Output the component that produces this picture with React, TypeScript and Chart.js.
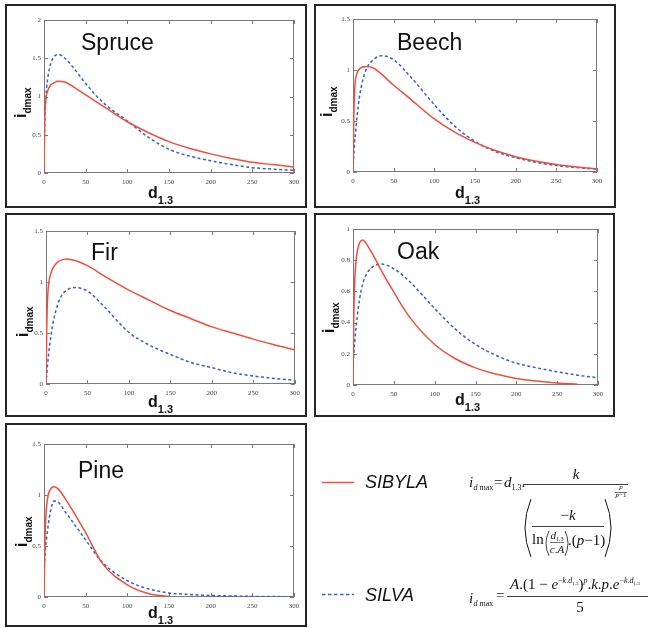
import React, { useEffect, useRef } from 'react';
import { Chart, registerables } from 'chart.js';

Chart.register(...registerables);

// ------------------------------------------------------------------ data
const D13 = [0, 1, 2, 3, 5, 8, 12, 17, 25, 35, 50, 70, 100, 125, 150, 175, 200, 225, 250, 275, 300];
const X_TICKS = [0, 50, 100, 150, 200, 250, 300];
const SERIES_NAMES = ['SIBYLA', 'SILVA'];

const SPRUCE_SIBYLA = [0, 0.75, 0.95, 1.02, 1.09, 1.15, 1.18, 1.2, 1.19, 1.13, 1.02, 0.88, 0.67, 0.53, 0.41, 0.32, 0.25, 0.19, 0.14, 0.11, 0.08];
const SPRUCE_SILVA = [0.25, 0.7, 0.95, 1.1, 1.28, 1.43, 1.52, 1.55, 1.5, 1.38, 1.17, 0.93, 0.68, 0.47, 0.31, 0.22, 0.16, 0.11, 0.07, 0.05, 0.035];
const SPRUCE_Y_TICKS = [0, 0.5, 1, 1.5, 2];

const BEECH_SIBYLA = [0, 0.55, 0.8, 0.9, 0.97, 1.01, 1.03, 1.035, 1.02, 0.96, 0.85, 0.72, 0.52, 0.39, 0.29, 0.21, 0.15, 0.105, 0.073, 0.05, 0.03];
const BEECH_SILVA = [0.02, 0.17, 0.3, 0.38, 0.55, 0.74, 0.9, 1.02, 1.1, 1.14, 1.1, 0.94, 0.66, 0.45, 0.3, 0.2, 0.14, 0.095, 0.063, 0.043, 0.028];
const BEECH_Y_TICKS = [0, 0.5, 1, 1.5];

const FIR_SIBYLA = [0, 0.6, 0.85, 0.97, 1.06, 1.13, 1.18, 1.21, 1.225, 1.21, 1.16, 1.06, 0.92, 0.82, 0.72, 0.64, 0.56, 0.5, 0.44, 0.385, 0.335];
const FIR_SILVA = [0, 0.1, 0.2, 0.28, 0.42, 0.58, 0.72, 0.84, 0.92, 0.945, 0.91, 0.76, 0.505, 0.38, 0.29, 0.21, 0.16, 0.11, 0.078, 0.055, 0.037];
const FIR_Y_TICKS = [0, 0.5, 1, 1.5];

const OAK_SIBYLA = [0, 0.45, 0.65, 0.75, 0.85, 0.91, 0.93, 0.9, 0.83, 0.73, 0.595, 0.43, 0.26, 0.17, 0.11, 0.07, 0.042, 0.025, 0.013, 0.005, null];
const OAK_SILVA = [0.1, 0.2, 0.27, 0.33, 0.43, 0.55, 0.65, 0.715, 0.76, 0.775, 0.745, 0.66, 0.49, 0.36, 0.26, 0.19, 0.14, 0.11, 0.085, 0.063, 0.046];
const OAK_Y_TICKS = [0, 0.2, 0.4, 0.6, 0.8, 1];

const PINE_SIBYLA = [0, 0.5, 0.75, 0.88, 1.0, 1.06, 1.08, 1.06, 0.97, 0.84, 0.63, 0.33, 0.12, 0.035, 0.004, null, null, null, null, null, null];
const PINE_SILVA = [0.24, 0.4, 0.5, 0.57, 0.7, 0.85, 0.94, 0.93, 0.84, 0.73, 0.56, 0.34, 0.16, 0.08, 0.04, 0.025, 0.015, 0.01, 0.006, 0.004, 0.003];
const PINE_Y_TICKS = [0, 0.5, 1, 1.5];

// ------------------------------------------------------------------ style / layout
const RED = 'rgb(240,78,58)';
const BLUE = 'rgb(52,96,200)';
const SANS = "'Liberation Sans', Arial, sans-serif";
const SERIF = "'Liberation Serif', 'Times New Roman', serif";
const BORDER = 2;

type Rect = { left: number; top: number; right: number; bottom: number };
type PanelCfg = {
  name: string;
  red: (number | null)[];
  blue: (number | null)[];
  yTicks: number[];
  box: { left: number; top: number; w: number; h: number };
  plot: Rect;
  title: { x: number; y: number };
  xlab: { x: number; y: number };
  ylab: { x: number; y: number };
};

const PANELS: PanelCfg[] = [
  {
    name: 'Spruce', red: SPRUCE_SIBYLA, blue: SPRUCE_SILVA, yTicks: SPRUCE_Y_TICKS,
    box: { left: 5, top: 4, w: 302, h: 204 },
    plot: { left: 44, top: 20, right: 294, bottom: 173 },
    title: { x: 81, y: 50 }, xlab: { x: 148, y: 198 }, ylab: { x: 26, y: 118 },
  },
  {
    name: 'Beech', red: BEECH_SIBYLA, blue: BEECH_SILVA, yTicks: BEECH_Y_TICKS,
    box: { left: 314, top: 4, w: 302, h: 204 },
    plot: { left: 353, top: 19, right: 597, bottom: 172 },
    title: { x: 397, y: 50 }, xlab: { x: 455, y: 198 }, ylab: { x: 332, y: 117 },
  },
  {
    name: 'Fir', red: FIR_SIBYLA, blue: FIR_SILVA, yTicks: FIR_Y_TICKS,
    box: { left: 5, top: 213, w: 302, h: 204 },
    plot: { left: 46, top: 231, right: 295, bottom: 384 },
    title: { x: 91, y: 260 }, xlab: { x: 148, y: 407 }, ylab: { x: 28, y: 337 },
  },
  {
    name: 'Oak', red: OAK_SIBYLA, blue: OAK_SILVA, yTicks: OAK_Y_TICKS,
    box: { left: 314, top: 213, w: 301, h: 204 },
    plot: { left: 353, top: 229, right: 598, bottom: 385 },
    title: { x: 397, y: 259 }, xlab: { x: 455, y: 405 }, ylab: { x: 334, y: 333 },
  },
  {
    name: 'Pine', red: PINE_SIBYLA, blue: PINE_SILVA, yTicks: PINE_Y_TICKS,
    box: { left: 5, top: 423, w: 302, h: 204 },
    plot: { left: 44, top: 444, right: 294, bottom: 597 },
    title: { x: 78, y: 478 }, xlab: { x: 148, y: 618 }, ylab: { x: 27, y: 547 },
  },
];

// ------------------------------------------------------------------ helpers
const frameTicks = {
  id: 'frameTicks',
  beforeDatasetsDraw(chart: any) {
    const { ctx, chartArea: a, scales } = chart;
    const L = 4;
    ctx.save();
    ctx.strokeStyle = '#7a7a7a';
    ctx.lineWidth = 1;
    ctx.strokeRect(Math.round(a.left) + 0.5, Math.round(a.top) + 0.5, Math.round(a.right - a.left) - 1, Math.round(a.bottom - a.top) - 1);
    ctx.beginPath();
    scales.x.ticks.forEach((t: any) => {
      const px = Math.round(scales.x.getPixelForValue(t.value)) + 0.5;
      ctx.moveTo(px, a.bottom); ctx.lineTo(px, a.bottom - L);
      ctx.moveTo(px, a.top); ctx.lineTo(px, a.top + L);
    });
    scales.y.ticks.forEach((t: any) => {
      const py = Math.round(scales.y.getPixelForValue(t.value)) + 0.5;
      ctx.moveTo(a.left, py); ctx.lineTo(a.left + L, py);
      ctx.moveTo(a.right, py); ctx.lineTo(a.right - L, py);
    });
    ctx.stroke();
    ctx.restore();
  },
};

function Txt(props: {
  x: number; y: number; size: number; family?: string; italic?: boolean; bold?: boolean;
  color?: string; anchor?: 'start' | 'middle'; children: React.ReactNode;
}) {
  const { x, y, size, family = SERIF, italic, bold, color = '#111', anchor = 'start', children } = props;
  return (
    <div
      style={{
        position: 'absolute', left: x, top: y - size * 0.84, fontSize: size, lineHeight: `${size}px`,
        fontFamily: family, fontStyle: italic ? 'italic' : 'normal', fontWeight: bold ? 700 : 400,
        color, whiteSpace: 'nowrap', transform: anchor === 'middle' ? 'translateX(-50%)' : undefined,
      }}
    >
      {children}
    </div>
  );
}

const Sub = ({ size, shift, children }: { size: number; shift: number; children: React.ReactNode }) => (
  <span style={{ fontSize: size, verticalAlign: -shift, lineHeight: 0 }}>{children}</span>
);
const Sup = ({ size, shift, children }: { size: number; shift: number; children: React.ReactNode }) => (
  <span style={{ fontSize: size, verticalAlign: shift, lineHeight: 0 }}>{children}</span>
);

function Panel({ cfg }: { cfg: PanelCfg }) {
  const ref = useRef<HTMLCanvasElement>(null);
  const innerL = cfg.box.left + BORDER;
  const innerT = cfg.box.top + BORDER;
  const innerW = cfg.box.w - 2 * BORDER;
  const innerH = cfg.box.h - 2 * BORDER;

  useEffect(() => {
    const yW = cfg.plot.left - innerL;
    const topPad = cfg.plot.top - innerT;
    const rightPad = innerL + innerW - cfg.plot.right;
    const xH = innerT + innerH - cfg.plot.bottom;
    const tickFont = { family: SERIF, size: 7 };
    const chart = new Chart(ref.current as HTMLCanvasElement, {
      type: 'line',
      data: {
        datasets: [
          {
            label: SERIES_NAMES[0],
            data: D13.map((x, i) => ({ x, y: cfg.red[i] })) as any,
            borderColor: RED, borderWidth: 1.5, pointRadius: 0, fill: false,
            cubicInterpolationMode: 'monotone',
          },
          {
            label: SERIES_NAMES[1],
            data: D13.map((x, i) => ({ x, y: cfg.blue[i] })) as any,
            borderColor: BLUE, borderWidth: 1.5, borderDash: [3, 2.5], pointRadius: 0, fill: false,
            cubicInterpolationMode: 'monotone',
          },
        ],
      },
      options: {
        responsive: false,
        animation: false,
        devicePixelRatio: 1,
        events: [],
        layout: { padding: { left: 0, top: topPad, right: rightPad, bottom: 0 } },
        plugins: { legend: { display: false }, tooltip: { enabled: false }, title: { display: false } },
        scales: {
          x: {
            type: 'linear', min: 0, max: 300,
            afterBuildTicks: (s: any) => { s.ticks = X_TICKS.map((v) => ({ value: v })); },
            afterFit: (s: any) => { s.height = xH; },
            grid: { display: false, drawTicks: false },
            border: { display: false },
            ticks: { font: tickFont, color: '#444', padding: 5, maxRotation: 0, autoSkip: false, callback: (v: any) => String(v) },
          },
          y: {
            type: 'linear', min: cfg.yTicks[0], max: cfg.yTicks[cfg.yTicks.length - 1],
            afterBuildTicks: (s: any) => { s.ticks = cfg.yTicks.map((v) => ({ value: v })); },
            afterFit: (s: any) => { s.width = yW; },
            grid: { display: false, drawTicks: false },
            border: { display: false },
            ticks: { font: tickFont, color: '#444', padding: 3, autoSkip: false, callback: (v: any) => String(v) },
          },
        },
      },
      plugins: [frameTicks],
    } as any);
    return () => chart.destroy();
  }, []);

  return (
    <>
      <div
        style={{
          position: 'absolute', left: cfg.box.left, top: cfg.box.top, width: cfg.box.w, height: cfg.box.h,
          boxSizing: 'border-box', border: `${BORDER}px solid #262626`, background: '#fff',
        }}
      >
        <canvas ref={ref} width={innerW} height={innerH} style={{ position: 'absolute', left: 0, top: 0, width: innerW, height: innerH }} />
      </div>
      <Txt x={cfg.title.x} y={cfg.title.y} size={23} family={SANS}>{cfg.name}</Txt>
      <Txt x={cfg.xlab.x} y={cfg.xlab.y} size={16} family={SANS} bold>
        d<Sub size={11} shift={6}>1.3</Sub>
      </Txt>
      <div
        style={{
          position: 'absolute', left: cfg.ylab.x - 0.84 * 16, top: cfg.ylab.y, transform: 'rotate(-90deg)',
          transformOrigin: '0 0', fontFamily: SANS, fontWeight: 700, fontSize: 16, lineHeight: '16px',
          whiteSpace: 'nowrap', color: '#111',
        }}
      >
        i<Sub size={10} shift={5}>dmax</Sub>
      </div>
    </>
  );
}

function LegendAndFormulas() {
  const sk = { stroke: '#111', strokeWidth: 1, fill: 'none' };
  return (
    <>
      <svg width={648} height={628} style={{ position: 'absolute', left: 0, top: 0, pointerEvents: 'none' }}>
        <line x1={322} y1={482.5} x2={354} y2={482.5} stroke={RED} strokeWidth={1.5} />
        <line x1={322} y1={594.5} x2={354} y2={594.5} stroke={BLUE} strokeWidth={1.5} strokeDasharray="3.5 2.5" />
        {/* formula 1 */}
        <line x1={523} y1={484.5} x2={628} y2={484.5} {...sk} strokeWidth={0.8} />
        <path d="M531,499 Q519,528 531,557" {...sk} />
        <path d="M605,499 Q617,528 605,557" {...sk} />
        <line x1={615} y1={492.5} x2={627} y2={492.5} {...sk} strokeWidth={0.6} />
        <line x1={532} y1={526.5} x2={604} y2={526.5} {...sk} strokeWidth={0.8} />
        <path d="M549,531 Q543,543 549,556" {...sk} strokeWidth={0.8} />
        <path d="M565,531 Q571,543 565,556" {...sk} strokeWidth={0.8} />
        <line x1={550} y1={542.5} x2={564} y2={542.5} {...sk} strokeWidth={0.6} />
        {/* formula 2 */}
        <line x1={507} y1={596.5} x2={648} y2={596.5} {...sk} strokeWidth={0.8} />
      </svg>

      <Txt x={365} y={488} size={18} family={SANS} italic>{SERIES_NAMES[0]}</Txt>
      <Txt x={365} y={601} size={18} family={SANS} italic>{SERIES_NAMES[1]}</Txt>

      {/* formula 1 */}
      <Txt x={469} y={488} size={15} italic>i</Txt>
      <Txt x={473.5} y={491} size={8}><i>d</i> max</Txt>
      <Txt x={494} y={488} size={15}>=</Txt>
      <Txt x={504} y={488} size={15}><i>d</i><Sub size={8} shift={3}>1.3</Sub>.</Txt>
      <Txt x={576} y={480} size={15} italic anchor="middle">k</Txt>
      <Txt x={568} y={521} size={15} anchor="middle">−<i>k</i></Txt>
      <Txt x={532} y={545} size={15}>ln</Txt>
      <Txt x={557} y={539} size={11} anchor="middle"><i>d</i><Sub size={6} shift={2}>1.3</Sub></Txt>
      <Txt x={557} y={553} size={11} anchor="middle"><i>c</i>.<i>A</i></Txt>
      <Txt x={568} y={546} size={15}>.(<i>p</i>−1)</Txt>
      <Txt x={621} y={490} size={7} anchor="middle"><i>p</i></Txt>
      <Txt x={621} y={498} size={7} anchor="middle"><i>p</i>−1</Txt>

      {/* formula 2 */}
      <Txt x={469} y={604} size={15} italic>i</Txt>
      <Txt x={473.5} y={607} size={8}><i>d</i> max</Txt>
      <Txt x={496} y={601} size={15}>=</Txt>
      <Txt x={510} y={590} size={15}>
        <i>A</i>.(1 − <i>e</i>
        <Sup size={8} shift={6}>−<i>k</i>.<i>d</i><Sub size={5} shift={2}>1.3</Sub></Sup>
        )<Sup size={8} shift={6}><i>p</i></Sup>.<i>k</i>.<i>p</i>.<i>e</i>
        <Sup size={8} shift={6}>−<i>k</i>.<i>d</i><Sub size={5} shift={2}>1.3</Sub></Sup>
      </Txt>
      <Txt x={580} y={613} size={15} anchor="middle">5</Txt>
    </>
  );
}

export default function App() {
  return (
    <div style={{ position: 'absolute', left: 0, top: 0, width: 648, height: 628, background: '#fff', overflow: 'hidden' }}>
      {PANELS.map((p) => <Panel key={p.name} cfg={p} />)}
      <LegendAndFormulas />
    </div>
  );
}
